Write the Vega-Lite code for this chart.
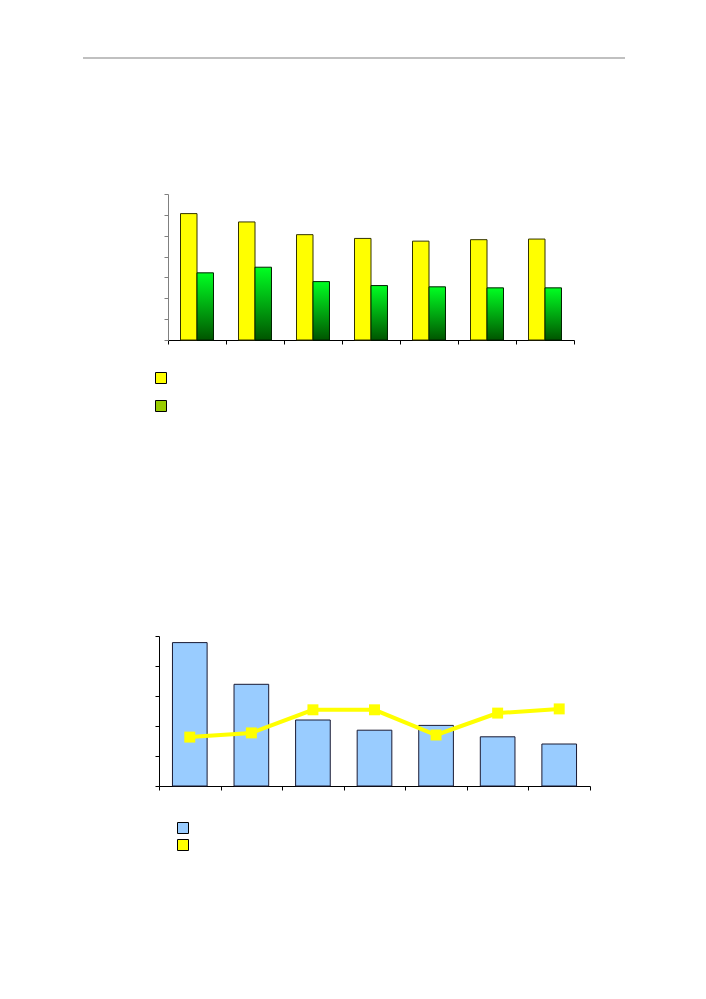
{
  "$schema": "https://vega.github.io/schema/vega-lite/v6.json",
  "padding": {"left": 82, "top": 57, "right": 0, "bottom": 0},
  "config": {"view": {"stroke": null}, "font": "Liberation Sans"},
  "datasets": {
    "page": [{"a": 0, "b": 1}],
    "bars1": [
      {"g": 1, "s": "A", "v": 6.06}, {"g": 1, "s": "B", "v": 3.22},
      {"g": 2, "s": "A", "v": 5.66}, {"g": 2, "s": "B", "v": 3.49},
      {"g": 3, "s": "A", "v": 5.05}, {"g": 3, "s": "B", "v": 2.8},
      {"g": 4, "s": "A", "v": 4.87}, {"g": 4, "s": "B", "v": 2.61},
      {"g": 5, "s": "A", "v": 4.74}, {"g": 5, "s": "B", "v": 2.55},
      {"g": 6, "s": "A", "v": 4.81}, {"g": 6, "s": "B", "v": 2.5},
      {"g": 7, "s": "A", "v": 4.84}, {"g": 7, "s": "B", "v": 2.5}
    ],
    "combo": [
      {"g": 1, "bar": 4.78, "line": 1.63},
      {"g": 2, "bar": 3.39, "line": 1.77},
      {"g": 3, "bar": 2.2, "line": 2.54},
      {"g": 4, "bar": 1.86, "line": 2.54},
      {"g": 5, "bar": 2.02, "line": 1.7},
      {"g": 6, "bar": 1.64, "line": 2.43},
      {"g": 7, "bar": 1.4, "line": 2.57}
    ]
  },
  "spacing": 134,
  "vconcat": [
    {
      "width": 542,
      "height": 2,
      "data": {"name": "page"},
      "mark": {"type": "rule", "color": "#c0c0c0", "strokeWidth": 2},
      "encoding": {
        "x": {"field": "a", "type": "quantitative", "scale": {"domain": [0, 1]}, "axis": null},
        "x2": {"field": "b"}
      }
    },
    {
      "spacing": 221,
      "resolve": {"scale": {"color": "independent"}, "legend": {"color": "independent"}},
      "vconcat": [
        {
          "spacing": 79,
          "hconcat": [
            {"width": 1, "height": 1, "data": {"values": []}, "mark": {"type": "point", "opacity": 0}},
            {
              "width": 406,
              "height": 146,
              "data": {"name": "bars1"},
              "encoding": {
                "x": {
                  "field": "g",
                  "type": "ordinal",
                  "scale": {"paddingInner": 0, "paddingOuter": 0},
                  "axis": {"labels": false, "title": null, "tickBand": "extent", "domainColor": "#000000", "tickColor": "#000000", "tickSize": 4}
                },
                "xOffset": {"field": "s", "type": "nominal", "scale": {"domain": ["A", "B"], "paddingInner": 0, "paddingOuter": 0.758}},
                "y": {
                  "field": "v",
                  "type": "quantitative",
                  "scale": {"domain": [0, 7]},
                  "axis": {"values": [0, 1, 2, 3, 4, 5, 6, 7], "labels": false, "title": null, "grid": false, "domainColor": "#808080", "tickColor": "#808080", "tickSize": 4}
                }
              },
              "layer": [
                {
                  "transform": [{"filter": "datum.s === 'A'"}],
                  "mark": {"type": "bar", "stroke": "#333300", "strokeWidth": 1},
                  "encoding": {
                    "color": {
                      "field": "s",
                      "type": "nominal",
                      "scale": {"domain": ["A", "B"], "range": ["#ffff00", "#99cc00"]},
                      "legend": {
                        "orient": "none", "legendX": 72, "legendY": 178, "direction": "vertical",
                        "title": null, "labelExpr": "''", "labelFontSize": 1,
                        "symbolType": "square", "symbolSize": 121, "symbolStrokeColor": "#000000",
                        "symbolStrokeWidth": 1, "symbolOpacity": 1, "rowPadding": 12
                      }
                    }
                  }
                },
                {
                  "transform": [{"filter": "datum.s === 'B'"}],
                  "mark": {
                    "type": "bar",
                    "stroke": "#002200",
                    "strokeWidth": 1,
                    "fill": {
                      "gradient": "linear",
                      "x1": 0, "y1": 0, "x2": 0, "y2": 1,
                      "stops": [
                        {"offset": 0, "color": "#00ff22"},
                        {"offset": 1, "color": "#005500"}
                      ]
                    }
                  }
                }
              ]
            }
          ]
        },
        {
          "spacing": 70,
          "hconcat": [
            {"width": 1, "height": 1, "data": {"values": []}, "mark": {"type": "point", "opacity": 0}},
            {
              "width": 431,
              "height": 150,
              "data": {"name": "combo"},
              "encoding": {
                "x": {
                  "field": "g",
                  "type": "ordinal",
                  "scale": {"paddingInner": 0, "paddingOuter": 0},
                  "axis": {"labels": false, "title": null, "tickBand": "extent", "domainColor": "#000000", "tickColor": "#000000", "tickSize": 4}
                }
              },
              "layer": [
                {
                  "mark": {"type": "bar", "stroke": "#1a1a33", "strokeWidth": 1, "width": {"band": 0.563}},
                  "encoding": {
                    "y": {
                      "field": "bar",
                      "type": "quantitative",
                      "scale": {"domain": [0, 5]},
                      "axis": {"values": [0, 1, 2, 3, 4, 5], "labels": false, "title": null, "grid": false, "domainColor": "#000000", "tickColor": "#000000", "tickSize": 4}
                    },
                    "color": {
                      "datum": "C",
                      "type": "nominal",
                      "scale": {"domain": ["C", "D"], "range": ["#99ccff", "#ffff00"]},
                      "legend": {
                        "orient": "none", "legendX": 94, "legendY": 186, "direction": "vertical",
                        "title": null, "labelExpr": "''", "labelFontSize": 1,
                        "symbolType": "square", "symbolSize": 121, "symbolStrokeColor": "#000000",
                        "symbolStrokeWidth": 1, "symbolOpacity": 1, "rowPadding": 1
                      }
                    }
                  }
                },
                {
                  "mark": {
                    "type": "line",
                    "color": "#ffff00",
                    "strokeWidth": 4,
                    "point": {"shape": "square", "size": 120, "filled": true, "color": "#ffff00", "opacity": 1}
                  },
                  "encoding": {
                    "y": {
                      "field": "line",
                      "type": "quantitative",
                      "scale": {"domain": [0, 5]},
                      "axis": {"values": [0, 1, 2, 3, 4, 5], "labels": false, "title": null, "grid": false, "domainColor": "#000000", "tickColor": "#000000", "tickSize": 4}
                    }
                  }
                }
              ]
            }
          ]
        }
      ]
    }
  ]
}
